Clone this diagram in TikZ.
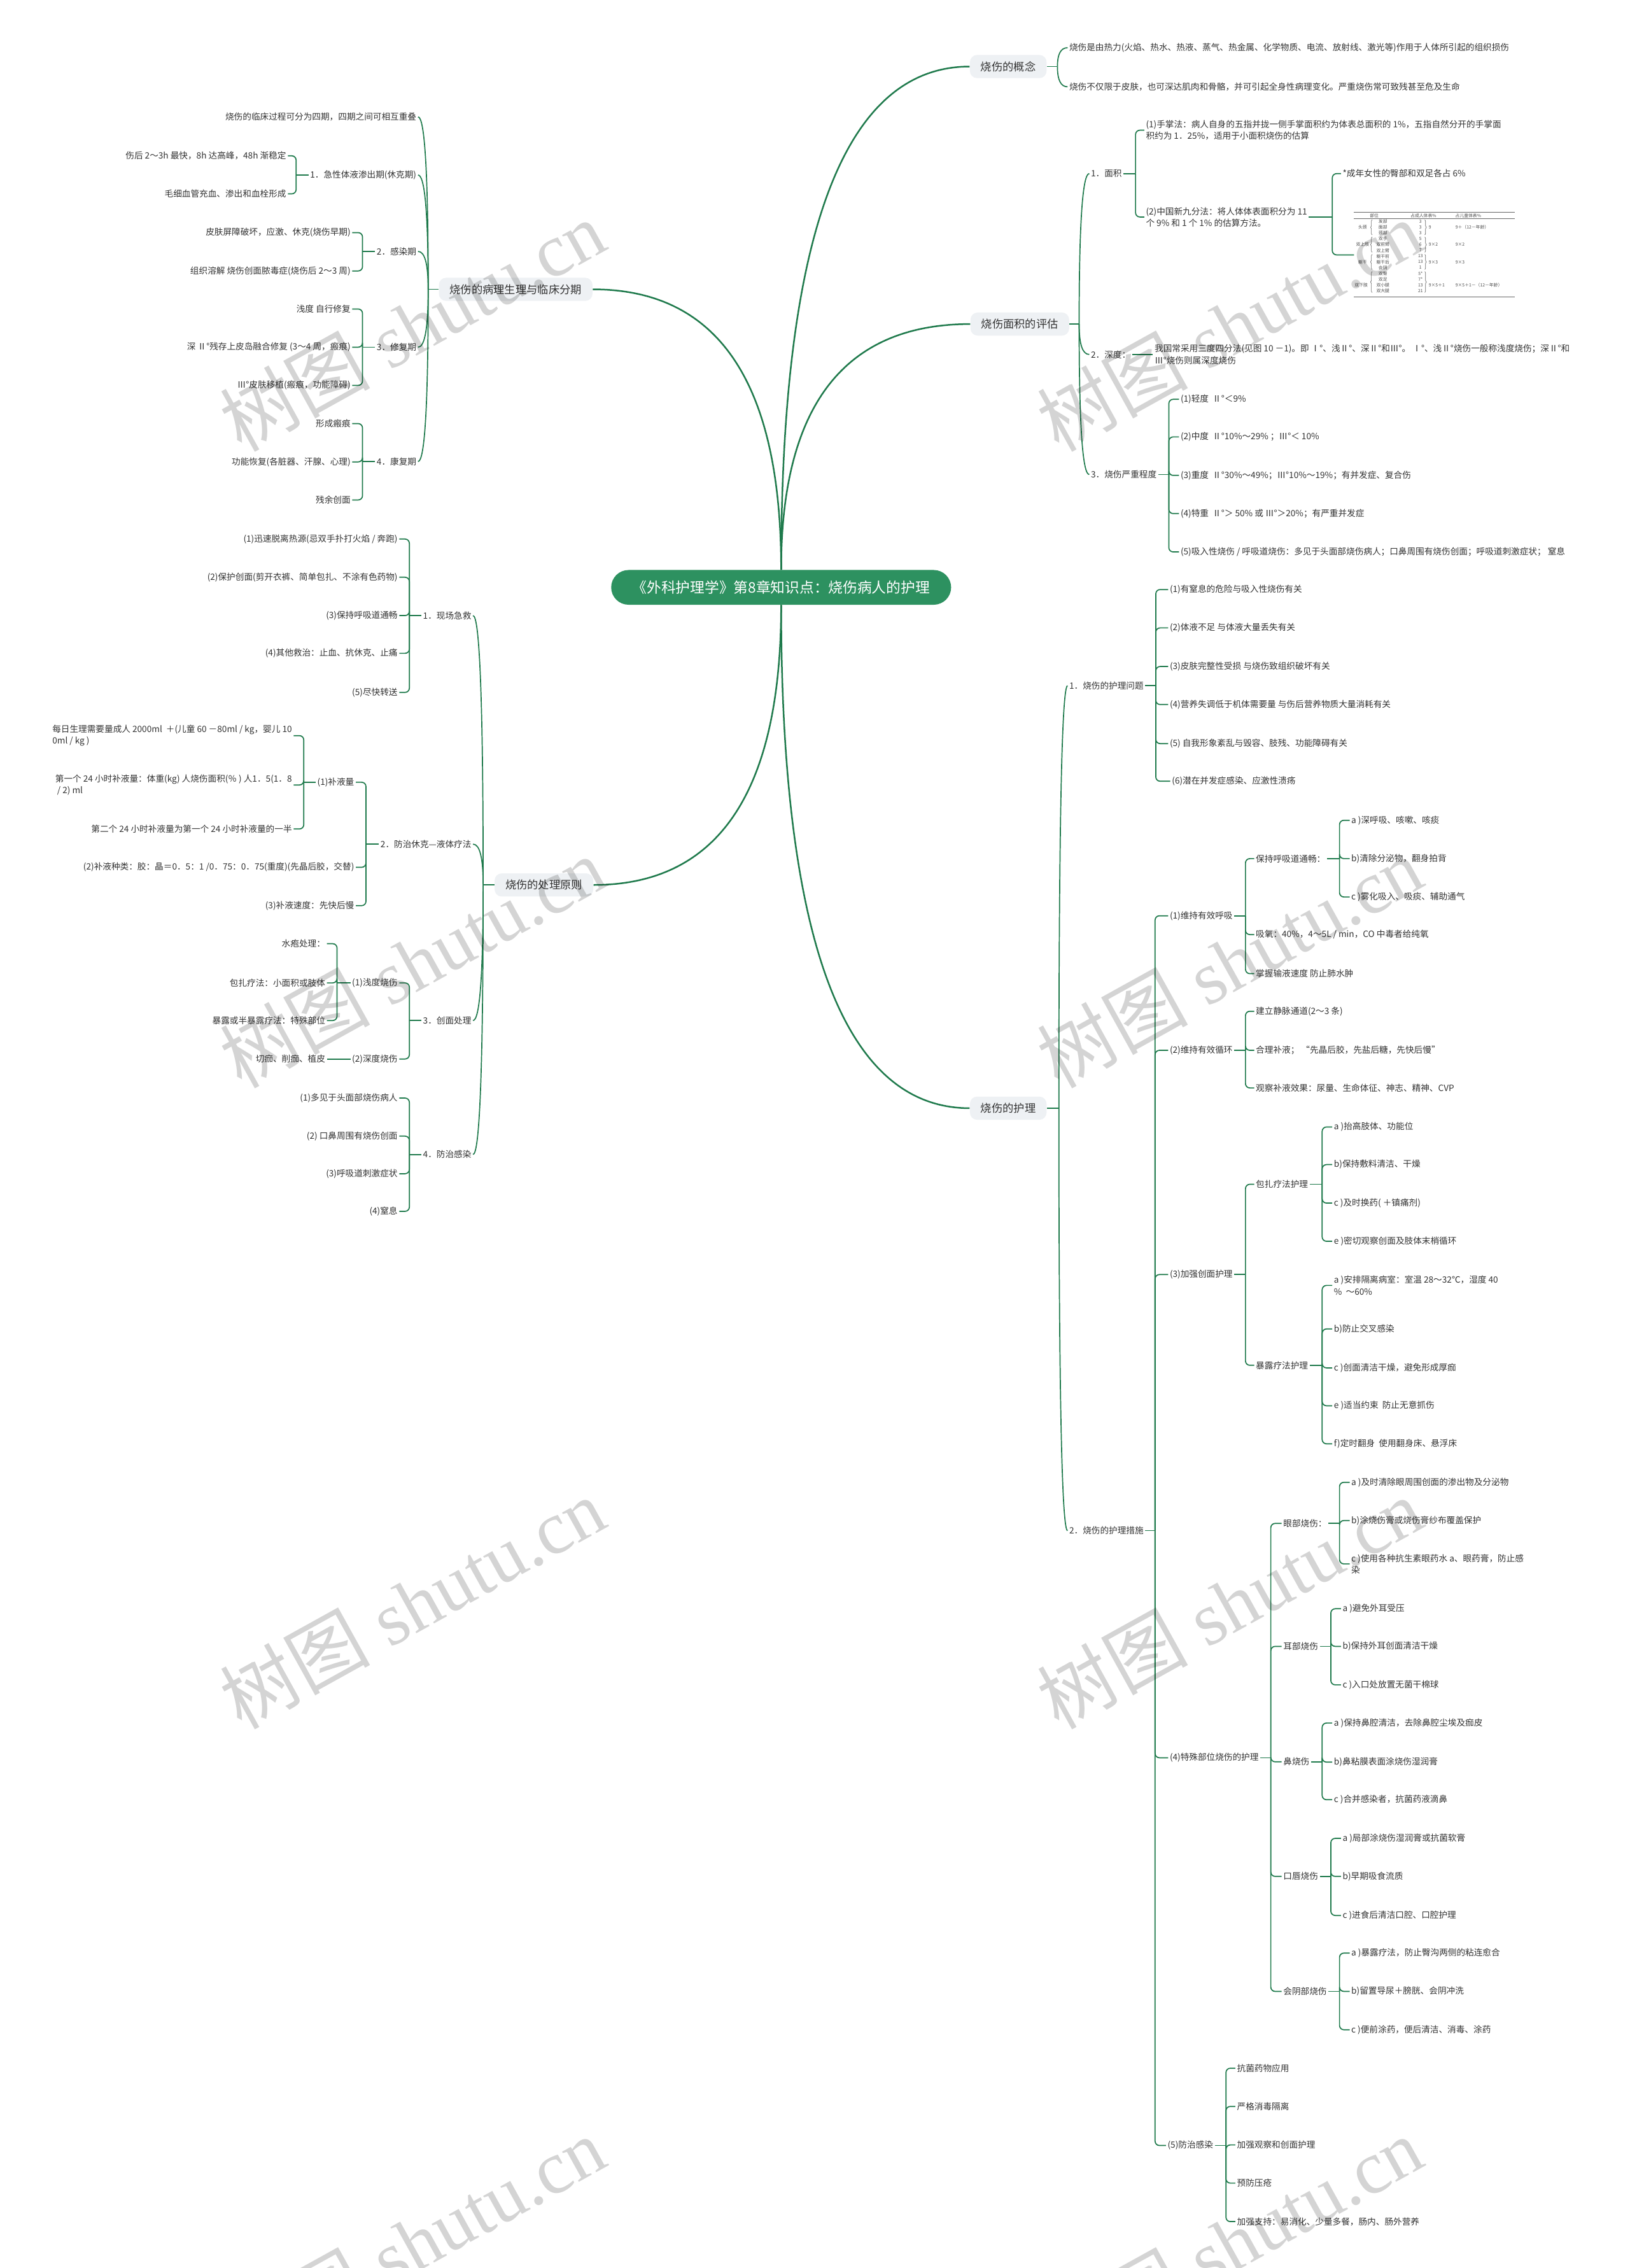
\documentclass[tikz,border=0pt]{standalone}
\usepackage{fontspec}
\newfontfamily\cjk{Noto Sans CJK SC}
\newfontfamily\wmlat{Liberation Serif}
\usetikzlibrary{calc,decorations.pathreplacing}
\definecolor{lc}{HTML}{1F7A4C}
\definecolor{ttlfill}{HTML}{2D9160}
\definecolor{mbfill}{HTML}{EEF1F4}
\definecolor{txt}{HTML}{333333}
\newcommand\myqcR[3]{%
  \draw[cn] (#1.east) -- (#2,0 |- #1.east) coordinate (J);
  \foreach \ch in {#3}{%
    \draw[cn] (J) .. controls ($(J)!0.6667!(J |- \ch.west)$) and ($(\ch.west)!0.6667!(J |- \ch.west)$) .. (\ch.west);}}
\newcommand\myqcL[3]{%
  \draw[cn] (#1.west) -- (#2,0 |- #1.west) coordinate (J);
  \foreach \ch in {#3}{%
    \draw[cn] (J) .. controls ($(J)!0.6667!(J |- \ch.east)$) and ($(\ch.east)!0.6667!(J |- \ch.east)$) .. (\ch.east);}}
\newcommand\myrbr[3]{%
  \draw[cn] (#1.east) -- (#2,0 |- #1.east) coordinate (J);
  \foreach \ch in {#3}{\draw[cn] (J) |- (\ch.west);}}
\newcommand\mylbr[3]{%
  \draw[cn] (#1.west) -- (#2,0 |- #1.west) coordinate (J);
  \foreach \ch in {#3}{\draw[cn] (J) |- (\ch.east);}}
\begin{document}
\begin{tikzpicture}[x=1pt,y=-1pt,
  lf/.style={font=\cjk\fontsize{6}{8}\selectfont, text=txt, inner sep=1pt, align=left},
  R/.style={lf, anchor=west},
  L/.style={lf, anchor=east},
  mb/.style={font=\cjk\fontsize{7.6}{9}\selectfont, text=txt, fill=mbfill, rounded corners=5pt, inner xsep=7.5pt, inner ysep=3pt, minimum height=16pt},
  ttl/.style={font=\cjk\fontsize{10}{12}\selectfont, text=white, fill=ttlfill, rounded corners=12pt, minimum width=235pt, minimum height=24pt, inner sep=0pt},
  cn/.style={draw=lc, line width=0.75pt, rounded corners=3pt},
  mcv/.style={draw=lc, line width=1.1pt},
  wm/.style={font=\wmlat\fontsize{52}{52}\selectfont, text=black, text opacity=0.17, rotate=29, inner sep=0pt},
  tb/.style={font=\cjk\fontsize{3}{3.5}\selectfont, text=black!70, inner sep=0pt},
  tbr/.style={draw=black!60, line width=0.3pt, decorate, decoration={brace, amplitude=1pt}},
  trule/.style={draw=black!60, line width=0.5pt}
]
\fill[white] (0,0) rectangle (1126.4,1567.7);
\useasboundingbox (0,0) rectangle (1126.4,1567.7);

% ---------- title and main branches ----------
\node[ttl] (title) at (540,406) {《外科护理学》第8章知识点：烧伤病人的护理};
\node[mb] (b1) at (697,46) {烧伤的概念};
\node[mb] (b2) at (705,224) {烧伤面积的评估};
\node[mb] (b3) at (697,766) {烧伤的护理};
\node[mb] (b4) at (356.5,200) {烧伤的病理生理与临床分期};
\node[mb] (b5) at (376,611.7) {烧伤的处理原则};

\coordinate (TN) at (title.north);
\coordinate (TS) at (title.south);
\foreach \bb in {b1,b2}{%
  \draw[mcv] (TN) .. controls ($(TN)!0.6667!(TN |- \bb.west)$) and ($(\bb.west)!0.6667!(TN |- \bb.west)$) .. (\bb.west);}
\draw[mcv] (TN) .. controls ($(TN)!0.6667!(TN |- b4.east)$) and ($(b4.east)!0.6667!(TN |- b4.east)$) .. (b4.east);
\draw[mcv] (TS) .. controls ($(TS)!0.6667!(TS |- b3.west)$) and ($(b3.west)!0.6667!(TS |- b3.west)$) .. (b3.west);
\draw[mcv] (TS) .. controls ($(TS)!0.6667!(TS |- b5.east)$) and ($(b5.east)!0.6667!(TS |- b5.east)$) .. (b5.east);

% ---------- concept ----------
\node[R] (c1) at (738,33) {烧伤是由热力(火焰、热水、热液、蒸气、热金属、化学物质、电流、放射线、激光等)作用于人体所引起的组织损伤};
\node[R] (c2) at (738,60) {烧伤不仅限于皮肤，也可深达肌肉和骨骼，并可引起全身性病理变化。严重烧伤常可致残甚至危及生命};
\myqcR{b1}{731}{c1,c2}

% ---------- area ----------
\node[R] (a1) at (753,120) {1．面积};
\node[R] (a2) at (753,245) {2．深度：};
\node[R] (a3) at (753,328) {3．烧伤严重程度};
\myqcR{b2}{746}{a1,a2,a3}
\node[R] (a11) at (791,90) {(1)手掌法：病人自身的五指并拢一侧手掌面积约为体表总面积的 1\%，五指自然分开的手掌面\\积约为 1．25\%，适用于小面积烧伤的估算};
\node[R] (a12) at (791,150) {(2)中国新九分法：将人体体表面积分为 11\\个 9\% 和 1 个 1\% 的估算方法。};
\myrbr{a1}{785}{a11,a12}
\node[R] (a121) at (927,120) {*成年女性的臀部和双足各占 6\%};
\node[inner sep=0pt, minimum width=111pt, minimum height=59pt, anchor=north west] (tbl) at (936,146.5) {};
\myrbr{a12}{921}{a121,tbl}
\node[R] (a21) at (797,245) {我国常采用三度四分法(见图 10 －1)。即 Ⅰ°、浅Ⅱ°、深Ⅱ°和Ⅲ°。 Ⅰ°、浅Ⅱ°烧伤一般称浅度烧伤；深Ⅱ°和\\Ⅲ°烧伤则属深度烧伤};
\draw[cn] (a2.east) -- (a21.west);
\node[R] (a31) at (815,276) {(1)轻度\ \ Ⅱ°＜9\%};
\node[R] (a32) at (815,302) {(2)中度\ \ Ⅱ°10\%～29\% ；Ⅲ°＜ 10\%};
\node[R] (a33) at (815,328.6) {(3)重度\ \ Ⅱ°30\%～49\%；Ⅲ°10\%～19\%；有并发症、复合伤};
\node[R] (a34) at (815,355) {(4)特重\ \ Ⅱ°＞ 50\% 或 Ⅲ°＞20\%；有严重并发症};
\node[R] (a35) at (815,381.5) {(5)吸入性烧伤 / 呼吸道烧伤：多见于头面部烧伤病人；口鼻周围有烧伤创面；呼吸道刺激症状； 窒息};
\myrbr{a3}{808}{a31,a32,a33,a34,a35}

% ---------- table ----------
\draw[trule] (936,146.6) -- (1047,146.6);
\draw[trule] (936,151) -- (1047,151);
\draw[trule] (936,205.3) -- (1047,205.3);
\node[tb] (th1) at (950,149) {部位};
\node[tb] (th2) at (984,149) {占成人体表\%};
\node[tb] (th3) at (1015,149) {占儿童体表\%};
\foreach \i/\t/\v in {0/发部/3, 1/面部/3, 2/颈部/3, 3/双手/5, 4/双前臂/6, 5/双上臂/7, 6/躯干前/13, 7/躯干后/13, 8/会阴/1, 9/双臀/5*, 10/双足/7*, 11/双小腿/13, 12/双大腿/21}{%
  \node[tb] (ts\i) at (956,{153.2+3.98*\i}) {\t};
  \node[tb] (tv\i) at (982,{153.2+3.98*\i}) {\v};}
\node[tb] (tg1) at (942,157.2) {头颈};
\node[tb] (tg2) at (942,169.1) {双上肢};
\node[tb] (tg3) at (942,181.1) {躯干};
\node[tb] (tg4) at (941,197.0) {双下肢};
\draw[tbr] (948.5,162.4) -- (948.5,151.9);
\draw[tbr] (948.5,174.4) -- (948.5,163.8);
\draw[tbr] (948.5,186.3) -- (948.5,175.8);
\draw[tbr] (948.5,202.2) -- (948.5,187.7);
\draw[tbr] (985,151.9) -- (985,162.4);
\draw[tbr] (985,163.8) -- (985,174.4);
\draw[tbr] (985,175.8) -- (985,186.3);
\draw[tbr] (985,187.7) -- (985,202.2);
\node[tb, anchor=west] (tsum1) at (987.5,157.2) {9};
\node[tb, anchor=west] (tsum2) at (987.5,169.1) {9×2};
\node[tb, anchor=west] (tsum3) at (987.5,181.1) {9×3};
\node[tb, anchor=west] (tsum4) at (987.5,197.0) {9×5＋1};
\node[tb, anchor=west] (tch1) at (1006,157.2) {9＋（12－年龄）};
\node[tb, anchor=west] (tch2) at (1006,169.1) {9×2};
\node[tb, anchor=west] (tch3) at (1006,181.1) {9×3};
\node[tb, anchor=west] (tch4) at (1006,197.0) {9×5＋1－（12－年龄）};

% ---------- nursing ----------
\node[R] (n1) at (738,474) {1．烧伤的护理问题};
\node[R] (n2) at (738,1058) {2．烧伤的护理措施};
\myqcR{b3}{732}{n1,n2}
\node[R] (n11) at (807.5,407.5) {(1)有窒息的危险与吸入性烧伤有关};
\node[R] (n12) at (807.5,434) {(2)体液不足 与体液大量丢失有关};
\node[R] (n13) at (807.5,460.7) {(3)皮肤完整性受损 与烧伤致组织破坏有关};
\node[R] (n14) at (807.5,487) {(4)营养失调低于机体需要量 与伤后营养物质大量消耗有关};
\node[R] (n15) at (807.5,514) {(5) 自我形象紊乱与毁容、肢残、功能障碍有关};
\node[R] (n16) at (809,540) {(6)潜在并发症感染、应激性溃疡};
\myrbr{n1}{799}{n11,n12,n13,n14,n15,n16}

\node[R] (n21) at (807.5,633) {(1)维持有效呼吸};
\node[R] (n22) at (807.5,726) {(2)维持有效循环};
\node[R] (n23) at (807.5,881) {(3)加强创面护理};
\node[R] (n24) at (807.5,1215) {(4)特殊部位烧伤的护理};
\node[R] (n25) at (806,1483) {(5)防治感染};
\myrbr{n2}{798.5}{n21,n22,n23,n24,n25}

\node[R] (n211) at (867,593.5) {保持呼吸道通畅：};
\node[R] (n212) at (867,646) {吸氧：40\%，4～5L / min，CO 中毒者给纯氧};
\node[R] (n213) at (867,673) {掌握输液速度 防止肺水肿};
\myrbr{n21}{861}{n211,n212,n213}
\node[R] (n2111) at (933,567) {a )深呼吸、咳嗽、咳痰};
\node[R] (n2112) at (933,593.5) {b)清除分泌物，翻身拍背};
\node[R] (n2113) at (933,620) {c )雾化吸入、吸痰、辅助通气};
\myrbr{n211}{926}{n2111,n2112,n2113}

\node[R] (n221) at (867,699) {建立静脉通道(2～3 条)};
\node[R] (n222) at (867,726) {合理补液；\ “先晶后胶，先盐后糖，先快后慢”};
\node[R] (n223) at (867,752) {观察补液效果：尿量、生命体征、神志、精神、CVP};
\myrbr{n22}{861}{n221,n222,n223}

\node[R] (n231) at (867,818.6) {包扎疗法护理};
\node[R] (n232) at (867,943.7) {暴露疗法护理};
\myrbr{n23}{861}{n231,n232}
\node[R] (n2311) at (921,779) {a )抬高肢体、功能位};
\node[R] (n2312) at (921,805) {b)保持敷料清洁、干燥};
\node[R] (n2313) at (921,831.6) {c )及时换药( ＋镇痛剂)};
\node[R] (n2314) at (921,858) {e )密切观察创面及肢体末梢循环};
\myrbr{n231}{914}{n2311,n2312,n2313,n2314}
\node[R] (n2321) at (921,888.5) {a )安排隔离病室：室温 28～32℃，湿度 40\\\%\ \ ～60\%};
\node[R] (n2322) at (921,918.6) {b)防止交叉感染};
\node[R] (n2323) at (921,945.5) {c )创面清洁干燥，避免形成厚痂};
\node[R] (n2324) at (921,971.7) {e )适当约束\ \ 防止无意抓伤};
\node[R] (n2325) at (921,998) {f)定时翻身\ \ 使用翻身床、悬浮床};
\myrbr{n232}{914}{n2321,n2322,n2323,n2324,n2325}

\node[R] (n241) at (886,1053) {眼部烧伤：};
\node[R] (n242) at (886,1138) {耳部烧伤};
\node[R] (n243) at (886,1217.8) {鼻烧伤};
\node[R] (n244) at (886,1297) {口唇烧伤};
\node[R] (n245) at (886,1376.5) {会阴部烧伤};
\myrbr{n24}{878.5}{n241,n242,n243,n244,n245}
\node[R] (n2411) at (933,1024.6) {a )及时清除眼周围创面的渗出物及分泌物};
\node[R] (n2412) at (933,1051) {b)涂烧伤膏或烧伤膏纱布覆盖保护};
\node[R] (n2413) at (933,1081) {c )使用各种抗生素眼药水 a、眼药膏，防止感\\染};
\myrbr{n241}{926}{n2411,n2412,n2413}
\node[R] (n2421) at (927,1112) {a )避免外耳受压};
\node[R] (n2422) at (927,1138) {b)保持外耳创面清洁干燥};
\node[R] (n2423) at (927,1164.6) {c )入口处放置无菌干棉球};
\myrbr{n242}{920}{n2421,n2422,n2423}
\node[R] (n2431) at (921,1191) {a )保持鼻腔清洁，去除鼻腔尘埃及痂皮};
\node[R] (n2432) at (921,1218) {b)鼻粘膜表面涂烧伤湿润膏};
\node[R] (n2433) at (921,1244) {c )合并感染者，抗菌药液滴鼻};
\myrbr{n243}{914}{n2431,n2432,n2433}
\node[R] (n2441) at (927,1270.7) {a )局部涂烧伤湿润膏或抗菌软膏};
\node[R] (n2442) at (927,1297) {b)早期吸食流质};
\node[R] (n2443) at (927,1324) {c )进食后清洁口腔、口腔护理};
\myrbr{n244}{920}{n2441,n2442,n2443}
\node[R] (n2451) at (933,1350) {a )暴露疗法，防止臀沟两侧的粘连愈合};
\node[R] (n2452) at (933,1376.5) {b)留置导尿＋膀胱、会阴冲洗};
\node[R] (n2453) at (933,1403) {c )便前涂药，便后清洁、消毒、涂药};
\myrbr{n245}{926}{n2451,n2452,n2453}

\node[R] (n251) at (854,1429.6) {抗菌药物应用};
\node[R] (n252) at (854,1456) {严格消毒隔离};
\node[R] (n253) at (854,1482.6) {加强观察和创面护理};
\node[R] (n254) at (854,1509) {预防压疮};
\node[R] (n255) at (854,1535.6) {加强支持：易消化、少量多餐，肠内、肠外营养};
\myrbr{n25}{847.5}{n251,n252,n253,n254,n255}

% ---------- pathophysiology (left) ----------
\node[L] (p1) at (289,80.8) {烧伤的临床过程可分为四期，四期之间可相互重叠};
\node[L] (p2) at (289,121) {1．急性体液渗出期(休克期)};
\node[L] (p3) at (289,173.8) {2．感染期};
\node[L] (p4) at (289,240) {3．修复期};
\node[L] (p5) at (289,319) {4．康复期};
\myqcL{b4}{296}{p1,p2,p3,p4,p5}
\node[L] (p21) at (199,107.7) {伤后 2～3h 最快，8h 达高峰，48h 渐稳定};
\node[L] (p22) at (199,134) {毛细血管充血、渗出和血栓形成};
\mylbr{p2}{204.7}{p21,p22}
\node[L] (p31) at (243.5,160.8) {皮肤屏障破坏，应激、休克(烧伤早期)};
\node[L] (p32) at (243.5,187.3) {组织溶解 烧伤创面脓毒症(烧伤后 2～3 周)};
\mylbr{p3}{250.6}{p31,p32}
\node[L] (p41) at (243.5,213.6) {浅度 自行修复};
\node[L] (p42) at (243.5,240) {深 Ⅱ°残存上皮岛融合修复 (3～4 周，瘢痕)};
\node[L] (p43) at (243.5,266.4) {Ⅲ°皮肤移植(瘢痕，功能障碍)};
\mylbr{p4}{250.6}{p41,p42,p43}
\node[L] (p51) at (243.5,292.8) {形成瘢痕};
\node[L] (p52) at (243.5,319.3) {功能恢复(各脏器、汗腺、心理)};
\node[L] (p53) at (243.5,345.6) {残余创面};
\mylbr{p5}{250.6}{p51,p52,p53}

% ---------- treatment principles (left) ----------
\node[L] (q1) at (327,425.5) {1．现场急救};
\node[L] (q2) at (327,583.5) {2．防治休克—液体疗法};
\node[L] (q3) at (327,705.4) {3．创面处理};
\node[L] (q4) at (327,798) {4．防治感染};
\myqcL{b5}{334}{q1,q2,q3,q4}
\node[L] (q11) at (276,372.6) {(1)迅速脱离热源(忌双手扑打火焰 / 奔跑)};
\node[L] (q12) at (276,399) {(2)保护创面(剪开衣裤、简单包扎、不涂有色药物)};
\node[L] (q13) at (276,425.5) {(3)保持呼吸道通畅};
\node[L] (q14) at (276,451.6) {(4)其他救治：止血、抗休克、止痛};
\node[L] (q15) at (276,478.6) {(5)尽快转送};
\mylbr{q1}{283}{q11,q12,q13,q14,q15}
\node[L] (q21) at (246,540.7) {(1)补液量};
\node[L] (q22) at (246,599.5) {(2)补液种类：胶：晶＝0．5：1 /0．75：0．75(重度)(先晶后胶，交替)};
\node[L] (q23) at (246,626) {(3)补液速度：先快后慢};
\mylbr{q2}{253}{q21,q22,q23}
\node[L] (q211) at (203,508.5) {每日生理需要量成人 2000ml\ \ ＋(儿童 60 －80ml / kg，婴儿 10\\0ml / kg )};
\node[L] (q212) at (203,542.6) {第一个 24 小时补液量：体重(kg) 人烧伤面积(％ ) 人1．5(1．8\\\ / 2) ml};
\node[L] (q213) at (203,573) {第二个 24 小时补液量为第一个 24 小时补液量的一半};
\mylbr{q21}{210}{q211,q212,q213}
\node[L] (q31) at (276,679.4) {(1)浅度烧伤};
\node[L] (q32) at (276,732) {(2)深度烧伤};
\mylbr{q3}{283}{q31,q32}
\node[L] (q311) at (226,652.3) {水疱处理：};
\node[L] (q312) at (226,679.4) {包扎疗法：小面积或肢体};
\node[L] (q313) at (226,705.4) {暴露或半暴露疗法：特殊部位};
\mylbr{q31}{233}{q311,q312,q313}
\node[L] (q321) at (226,732) {切痂、削痂、植皮};
\draw[cn] (q32.west) -- (q321.east);
\node[L] (q41) at (276,759) {(1)多见于头面部烧伤病人};
\node[L] (q42) at (276,785.3) {(2) 口鼻周围有烧伤创面};
\node[L] (q43) at (276,811.3) {(3)呼吸道刺激症状};
\node[L] (q44) at (276,837.3) {(4)窒息};
\mylbr{q4}{283}{q41,q42,q43,q44}

% ---------- watermarks ----------
\foreach \wx in {285,850}{\foreach \wy in {225,665,1108,1550}{%
  \node[wm] (wm-\wx-\wy) at (\wx,\wy) {{\cjk 树图} shutu.cn};}}
\end{tikzpicture}
\end{document}
